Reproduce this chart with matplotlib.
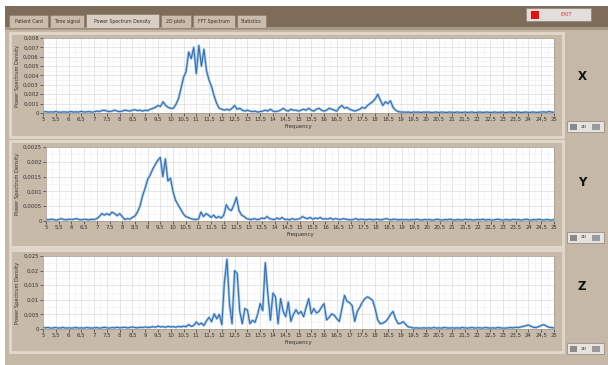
import numpy as np
import matplotlib
matplotlib.use("Agg")
import matplotlib.pyplot as plt
from matplotlib.patches import Rectangle
from matplotlib.ticker import MultipleLocator, FuncFormatter

# ---------------- data (PSD) ----------------
freq = np.round(np.arange(5.0, 25.0001, 0.1), 1)   # Hz, 0.1 Hz steps

# X axis PSD, units of 1e-3
psd_x_e3 = [0.10,0.15,0.10,0.12,0.10,0.15,0.10,0.08,0.12,0.10,0.10,
            0.15,0.10,0.12,0.10,0.18,0.10,0.12,0.15,0.10,0.12,
            0.20,0.15,0.25,0.30,0.20,0.15,0.20,0.30,0.20,0.15,
            0.20,0.30,0.25,0.20,0.30,0.35,0.25,0.30,0.20,0.30,
            0.25,0.40,0.50,0.60,0.80,0.70,1.20,0.80,0.60,0.50,
            0.50,0.90,1.50,2.60,3.80,4.40,6.50,5.80,7.00,4.20,
            7.20,5.00,6.80,4.50,3.50,2.80,1.80,1.00,0.50,0.40,
            0.30,0.40,0.30,0.50,0.80,0.40,0.50,0.30,0.20,0.30,
            0.20,0.15,0.20,0.10,0.15,0.20,0.30,0.20,0.40,0.20,
            0.15,0.20,0.30,0.50,0.30,0.20,0.40,0.30,0.30,0.20,
            0.30,0.40,0.30,0.50,0.30,0.20,0.40,0.50,0.30,0.20,
            0.30,0.50,0.40,0.30,0.20,0.60,0.80,0.50,0.60,0.40,
            0.30,0.20,0.30,0.40,0.60,0.50,0.80,1.00,1.20,1.50,
            2.00,1.40,0.80,1.20,1.00,1.30,0.60,0.30,0.15,0.10,
            0.10,0.08,0.10,0.05,0.10,0.08,0.10,0.05,0.10,0.08,
            0.10,0.05,0.08,0.10,0.05,0.10,0.08,0.05,0.10,0.08,
            0.06,0.10,0.08,0.05,0.10,0.06,0.08,0.10,0.05,0.08,
            0.10,0.06,0.08,0.10,0.05,0.08,0.10,0.06,0.08,0.10,
            0.05,0.08,0.10,0.06,0.08,0.10,0.05,0.08,0.10,0.06,
            0.08,0.10,0.06,0.08,0.10,0.12,0.08,0.15,0.10,0.08]

# Y axis PSD, units of 1e-4
psd_y_e4 = [0.5,0.4,0.6,0.5,0.3,0.5,0.8,0.5,0.4,0.6,0.5,
            0.6,0.8,0.5,0.4,0.6,0.5,0.4,0.6,0.5,0.8,
            1.5,2.5,2.0,2.5,2.0,3.0,2.5,1.8,2.5,1.5,
            0.5,0.8,0.6,1.2,1.7,3.0,5.0,8.5,11.0,14.0,
            15.5,17.5,19.0,20.5,21.5,15.0,21.0,13.5,14.5,10.0,
            7.0,5.5,4.0,2.5,1.5,1.2,0.8,0.6,0.5,0.6,
            3.0,1.5,2.5,2.0,1.2,2.0,1.0,1.5,1.0,2.0,
            5.5,4.0,3.5,5.5,8.0,3.5,2.0,1.5,0.8,0.6,
            0.5,0.8,0.5,0.6,1.0,0.8,1.5,0.8,0.6,0.5,
            1.0,0.6,1.2,0.5,0.6,0.4,0.8,0.5,0.6,0.8,
            1.5,1.0,0.8,1.2,0.6,1.0,0.8,1.2,0.6,0.8,
            0.6,1.0,0.5,0.8,0.6,0.5,0.8,0.6,0.5,0.4,
            0.5,0.8,0.4,0.6,0.5,0.4,0.6,0.5,0.4,0.6,
            0.5,0.4,0.6,0.8,0.5,0.4,0.6,0.5,0.4,0.5,
            0.4,0.5,0.3,0.5,0.4,0.6,0.4,0.3,0.5,0.4,
            0.5,0.3,0.4,0.6,0.4,0.3,0.5,0.4,0.6,0.4,
            0.3,0.5,0.4,0.3,0.6,0.4,0.5,0.3,0.4,0.5,
            0.4,0.6,0.3,0.5,0.4,0.3,0.5,0.6,0.4,0.3,
            0.5,0.4,0.3,0.6,0.4,0.5,0.3,0.4,0.6,0.4,
            0.3,0.5,0.4,0.6,0.4,0.3,0.5,0.4,0.3,0.5]

# Z axis PSD, units of 1e-3
psd_z_e3 = [0.5,0.4,0.5,0.3,0.4,0.5,0.3,0.4,0.5,0.3,0.4,
            0.3,0.4,0.5,0.3,0.4,0.3,0.5,0.4,0.3,0.4,
            0.5,0.3,0.4,0.6,0.4,0.3,0.5,0.4,0.6,0.4,
            0.5,0.6,0.4,0.5,0.7,0.5,0.4,0.6,0.5,0.7,
            0.5,0.6,0.8,0.6,1.0,0.7,0.8,0.6,0.9,0.7,
            0.8,0.6,0.9,0.7,1.0,0.8,1.5,0.9,1.2,2.4,
            1.5,2.0,1.2,2.8,4.0,2.5,5.2,3.5,5.0,1.5,
            16.0,23.9,8.5,1.8,20.0,19.0,6.0,1.8,7.0,6.5,
            1.8,3.0,2.3,5.0,8.7,6.3,22.7,12.0,3.0,12.3,
            11.0,1.8,10.4,6.0,4.2,9.2,2.6,5.0,6.6,5.2,
            6.0,4.2,7.5,10.4,5.2,7.0,5.5,6.0,7.5,8.7,
            3.1,4.0,5.2,4.7,3.5,2.6,7.0,11.5,9.5,9.0,
            8.0,2.6,6.0,7.5,9.2,10.4,11.0,10.5,9.8,7.0,
            3.1,1.8,2.0,2.5,3.5,5.0,6.0,3.5,1.8,2.0,
            2.5,1.5,0.7,0.6,0.3,0.4,0.3,0.3,0.4,0.3,
            0.4,0.3,0.5,0.3,0.4,0.3,0.5,0.4,0.3,0.4,
            0.3,0.4,0.3,0.5,0.4,0.3,0.4,0.5,0.3,0.4,
            0.4,0.3,0.5,0.4,0.3,0.4,0.3,0.5,0.4,0.3,
            0.3,0.4,0.5,0.4,0.6,0.5,0.7,0.9,1.1,1.4,
            0.9,0.6,0.5,0.8,1.2,1.5,1.0,0.6,0.5,0.4]

tab_labels = ["Patient Card", "Time signal", "Power Spectrum Density",
              "2D plots", "FFT Spectrum", "Statistics"]
axis_names = ["X", "Y", "Z"]
y_limits = [0.008, 0.0025, 0.025]
y_steps = [0.001, 0.0005, 0.005]

# ---------------- figure & GUI background ----------------
W, H = 608, 365
fig = plt.figure(figsize=(6.08, 3.65), dpi=100)
fig.patch.set_facecolor("white")
bg = fig.add_axes([0, 0, 1, 1])
bg.set_xlim(0, W); bg.set_ylim(H, 0); bg.axis("off")

def rect(x0, y0, x1, y1, fc, ec="none", lw=0.0, z=0):
    bg.add_patch(Rectangle((x0, y0), x1 - x0, y1 - y0, facecolor=fc,
                           edgecolor=ec, linewidth=lw, zorder=z))

TAN = "#c6b8a7"
rect(5, 6, W, H, TAN)
rect(5, 6, W, 28, "#7e6c5a")
rect(5, 27, W, 30, "#a89886")

# tabs
tab_x = [(9, 48), (50, 84), (86, 159), (161, 191), (193, 235), (237, 266)]
for (x0, x1), lab in zip(tab_x, tab_labels):
    sel = lab == "Power Spectrum Density"
    rect(x0, 14 if sel else 15, x1, 28, "#d9cfc2" if sel else "#c9bcac",
         ec="#8d7d6c", lw=0.5, z=1)
    bg.text((x0 + x1) / 2, 21.5, lab, fontsize=3.3, color="#3b3128",
            ha="center", va="center", zorder=2)

# EXIT button
rect(526, 8, 591, 21, "#e3dedb", ec="#958a80", lw=0.6, z=1)
rect(531, 10.5, 539, 18.5, "#e81010", z=2)
bg.text(566, 14.5, "EXIT", fontsize=3.8, color="#d03a3a", ha="center",
        va="center", zorder=3)

# graph panels
panel_y = [(33, 137), (141, 247), (250, 352)]
for (y0, y1) in panel_y:
    rect(10, y0, 563, y1, "#c8baa9", ec="#e2d8cc", lw=2.0, z=1)

# axis letters and small buttons
letter_y = [77, 183, 287]
button_y = [(121, 132), (232, 243), (343, 354)]
for name, ly, (b0, b1) in zip(axis_names, letter_y, button_y):
    bg.text(582, ly, name, fontsize=8.5, fontweight="bold", color="#111111",
            ha="center", va="center", zorder=3)
    rect(567, b0, 604, b1, "#e6e2de", ec="#9a9088", lw=0.6, z=1)
    rect(570, b0 + 2.5, 577, b1 - 2.5, "#8a8a8a", z=2)
    bg.text(584, (b0 + b1) / 2, "2D", fontsize=3.2, color="#333333",
            ha="center", va="center", zorder=3)
    rect(592, b0 + 2.5, 600, b1 - 2.5, "#9a9a9a", z=2)

# ---------------- the three PSD graphs ----------------
axes_px = [(43, 554, 38, 113), (46, 554, 147, 221), (43, 554, 256, 329)]
series = [np.array(psd_x_e3) * 1e-3, np.array(psd_y_e4) * 1e-4,
          np.array(psd_z_e3) * 1e-3]

def comma(v, pos):
    s = f"{v:.4f}".rstrip("0").rstrip(".") if abs(v) > 1e-12 else "0"
    return s.replace(".", ",")

def xcomma(v, pos):
    return f"{v:g}".replace(".", ",")

for (l, r, t, b), vals, ymax, ystep in zip(axes_px, series, y_limits, y_steps):
    ax = fig.add_axes([l / W, 1 - b / H, (r - l) / W, (b - t) / H])
    ax.set_facecolor("white")
    ax.set_xlim(5, 25)
    ax.set_ylim(0, ymax)
    ax.xaxis.set_major_locator(MultipleLocator(0.5))
    ax.xaxis.set_minor_locator(MultipleLocator(0.25))
    ax.yaxis.set_major_locator(MultipleLocator(ystep))
    ax.yaxis.set_minor_locator(MultipleLocator(ystep / 2))
    ax.xaxis.set_major_formatter(FuncFormatter(xcomma))
    ax.yaxis.set_major_formatter(FuncFormatter(comma))
    ax.grid(which="major", color="#dcdcdc", lw=0.5)
    ax.grid(which="minor", color="#efefef", lw=0.4)
    ax.set_axisbelow(True)
    ax.tick_params(which="major", labelsize=3.9, length=2, width=0.5,
                   pad=1, colors="#333333")
    ax.tick_params(which="minor", length=0)
    for s in ax.spines.values():
        s.set_color("#a49a8e"); s.set_linewidth(0.5)
    ax.plot(freq, vals, color="#9cc0e4", lw=1.8, solid_joinstyle="round")
    ax.plot(freq, vals, color="#2c6cb0", lw=0.7, solid_joinstyle="round")
    ax.set_xlabel("Frequency", fontsize=3.9, labelpad=1.5, color="#333333")
    ax.set_ylabel("Power Spectrum Density", fontsize=3.6, labelpad=2,
                  color="#333333")

fig.savefig("out.png", dpi=100)
